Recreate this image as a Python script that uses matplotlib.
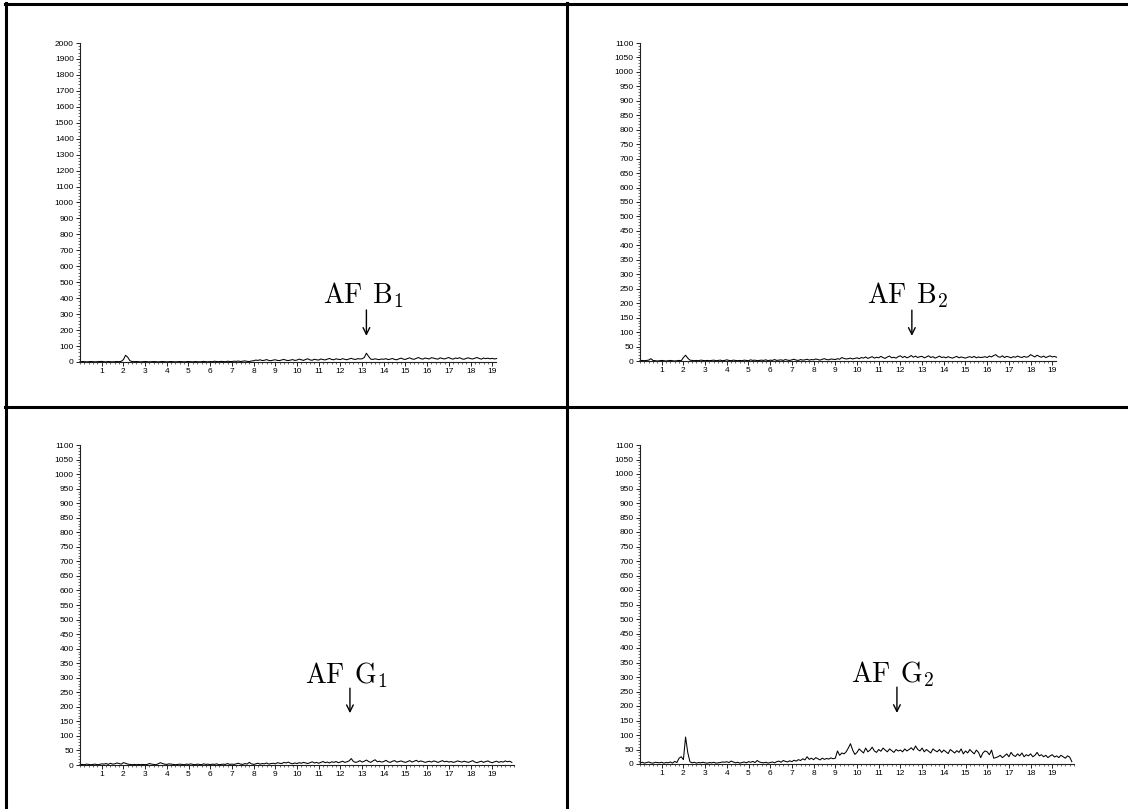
import numpy as np
import matplotlib
matplotlib.use("Agg")
import matplotlib.pyplot as plt
from matplotlib.lines import Line2D
from matplotlib.transforms import Bbox, TransformedBbox, blended_transform_factory
from matplotlib.ticker import MultipleLocator

plt.rcParams['mathtext.fontset'] = 'cm'

# ---------------- data ----------------
labels = [r"$\mathrm{AF\;\,B}_{1}$", r"$\mathrm{AF\;\,B}_{2}$", r"$\mathrm{AF\;\,G}_{1}$", r"$\mathrm{AF\;\,G}_{2}$"]
ymax = [2000, 1100, 1100, 1100]
ystep = [100, 50, 50, 50]
xmax = [19.15, 19.15, 20.0, 20.0]
label_text_x = [13.05, 12.35, 12.3, 11.66]
arrow_x = [13.2, 12.53, 12.44, 11.84]

time_b = np.round(np.arange(0, 193) * 0.1, 1)   # 0.0 .. 19.2 min
time_g = np.round(np.arange(0, 200) * 0.1, 1)   # 0.0 .. 19.9 min

afb1 = [2,3,2,1,2,3,2,1,2,3, 4,2,1,3,2,1,2,3,2,4,
        15,42,30,8,3,
        2,3,2,1,2, 3,2,1,2,3, 2,1,2,3,2, 1,2,3,2,1, 2,3,2,1,2, 3,2,1,3,2, 1,2,4,2,1, 3,2,5,3,2, 4,3,2,5,3,
        3,5,4,6,3,5,7,4,3,6,
        8,12,10,14,9,11,15,10,8,12, 14,10,9,13,16,11,9,12,15,10,
        12,18,14,10,16,20,13,11,17,14, 12,19,15,13,18,22,16,14,20,17, 15,21,17,14,19,23,18,16,21,19,
        20,28,55,35,18,16,20,17,15,19,
        17,21,15,18,22,16,14,20,24,18, 16,22,26,19,17,23,28,21,18,25, 22,19,27,24,20,18,26,22,19,24,
        28,21,18,25,22,27,20,17,23,26, 21,19,24,28,22,18,25,21,24,20, 23,19,22]

afb2 = [1,2,1,2,3,8,2,1,0,1, 2,1,0,1,2,1,0,1,2,1,
        12,20,10,3,2,
        1,2,1,3,2,1,2,1,2,3, 1,2,3,1,2,4,2,1,3,2, 1,2,1,3,2,1,4,2,3,1, 2,3,2,4,1,3,2,5,2,3,
        4,2,5,3,2,4,6,3,2,5, 3,4,6,3,5,
        4,7,5,3,6,8,5,4,7,6,5,8,6,
        12,9,7,8,10,7,9,
        11,8,12,10,14,9,12,15,10,13,
        11,16,12,9,14,17,11,13,10,15,
        18,12,16,11,14,19,13,17,12,15,
        16,11,14,18,12,15,10,13,17,12,
        14,11,15,12,10,13,16,11,14,12,
        10,13,15,12,16,11,14,12,13,15,
        12,17,14,19,22,15,13,18,12,16,
        14,11,15,13,17,14,12,16,13,15,
        22,18,14,20,16,13,17,12,15,18,
        14,16,13]

afg1 = [1,2,1,3,2,1,2,3,1,2,
        4,3,5,2,6,3,4,7,5,3,
        8,6,3,2,1,2,1,2,1,2,
        1,2,5,3,2,1,4,8,5,3,
        2,4,3,2,1,2,3,2,1,3,
        2,4,2,1,3,2,1,4,2,3,
        1,3,2,4,1,2,3,2,5,2,
        3,2,4,6,3,2,5,3,9,4,
        2,4,6,3,5,4,7,3,5,6,
        4,8,6,5,9,7,10,6,4,7,
        5,8,6,9,7,5,8,11,7,9,
        6,9,12,8,10,7,11,9,12,8,
        10,13,9,11,14,22,12,9,11,15,
        10,13,17,12,9,14,18,11,13,10,
        12,16,11,9,13,15,10,12,14,11,
        9,12,15,10,13,16,11,14,12,9,
        11,13,10,14,12,9,12,15,11,13,
        10,12,9,11,14,12,10,13,11,9,
        12,15,10,8,11,13,9,12,14,10,
        8,11,13,9,12,10,14,11,13,9]

afg2 = [4,6,3,5,7,4,3,6,5,4,
        6,3,5,4,7,3,9,5,20,25,
        15,93,40,8,4,6,3,5,4,6,
        4,3,5,4,6,3,4,5,7,6,
        8,5,10,7,4,6,3,5,7,4,
        8,6,9,5,12,7,5,4,6,3,
        5,7,4,8,10,6,12,9,7,11,
        8,13,10,15,12,18,14,25,16,20,
        15,22,18,14,20,16,19,17,21,18,
        20,45,30,38,35,42,55,70,48,33,
        40,52,45,38,55,42,48,58,45,40,
        50,44,55,48,42,52,46,40,50,45,
        48,42,52,45,50,56,48,62,50,45,
        55,42,50,44,38,52,46,42,50,40,
        48,42,36,50,44,38,46,40,52,35,
        45,38,50,42,35,48,40,22,38,45,
        42,32,48,20,22,25,30,22,28,35,
        25,40,30,26,35,28,38,25,32,28,
        35,25,30,40,28,32,25,30,22,28,
        32,24,28,22,30,25,20,28,24,8]

times = [time_b, time_b, time_g, time_g]
series = [afb1, afb2, afg1, afg2]

# ---------------- layout ----------------
W, H = 1128, 809
fig = plt.figure(figsize=(W / 100, H / 100), dpi=100)
fig.patch.set_facecolor('white')

rects = [
    (80, 362, 43, 415.5),
    (640, 361, 43, 415.5),
    (80, 765, 445, 434),
    (640, 764, 445, 434),
]
text_base = [0.185, 0.182, 0.256, 0.257]
arrow_top = [0.163, 0.160, 0.240, 0.241]
arrow_bot = [0.082, 0.079, 0.162, 0.160]

axes = []
for i in range(4):
    x0, yb, yt, w = rects[i]
    ax = fig.add_axes([x0 / W, (H - yb) / H, w / W, (yb - yt) / H])
    axes.append(ax)
    ax.plot(times[i], series[i], color='black', lw=0.75, clip_on=False)
    ax.set_xlim(0, xmax[i])
    ax.set_ylim(0, ymax[i])
    for s in ['top', 'right']:
        ax.spines[s].set_visible(False)
    for s in ['left', 'bottom']:
        ax.spines[s].set_linewidth(0.8)
        ax.spines[s].set_color('#222222')
    ax.set_xticks(np.arange(1, 20))
    ax.set_xticklabels([str(k) for k in range(1, 20)])
    ax.xaxis.set_minor_locator(MultipleLocator(0.2))
    ax.set_yticks(np.arange(0, ymax[i] + 1, ystep[i]))
    ax.yaxis.set_minor_locator(MultipleLocator(ystep[i] / 5))
    ax.tick_params(axis='both', which='major', length=3, width=0.6, pad=1.5,
                   labelsize=6, colors='black')
    ax.tick_params(axis='both', which='minor', length=1.5, width=0.5, colors='#333333')
    for lab in ax.get_xticklabels() + ax.get_yticklabels():
        lab.set_fontfamily('Liberation Sans')
    ax.patch.set_alpha(0)

    tr = blended_transform_factory(ax.transData, ax.transAxes)
    ax.text(label_text_x[i], text_base[i], labels[i], transform=tr, ha='center',
            va='baseline', fontsize=20, color='black')
    ax.annotate('', xy=(arrow_x[i], arrow_bot[i]), xytext=(arrow_x[i], arrow_top[i]),
                xycoords=tr, textcoords=tr,
                arrowprops=dict(arrowstyle='->', lw=1.0, color='black',
                                shrinkA=0, shrinkB=0, mutation_scale=12))

# table borders
def hline(y, x1, x2):
    fig.add_artist(Line2D([x1 / W, x2 / W], [(H - y) / H, (H - y) / H], color='black', lw=2.2))

def vline(x, y1, y2):
    fig.add_artist(Line2D([x / W, x / W], [(H - y1) / H, (H - y2) / H], color='black', lw=2.2))

hline(4, 5, W)
hline(407, 5, W)
vline(6, 3, H)
vline(567, 3, H)

# clip x tick labels at the right end of each axis, as in the scanned original
fig.canvas.draw()
for ax in axes:
    clipbox = TransformedBbox(Bbox([[-0.5, -0.5], [1.0, 1.5]]), ax.transAxes)
    for t in ax.xaxis.get_major_ticks():
        t.label1.set_clip_box(clipbox)
        t.label1.set_clip_on(True)

fig.savefig('out.png', dpi=100, facecolor='white')
